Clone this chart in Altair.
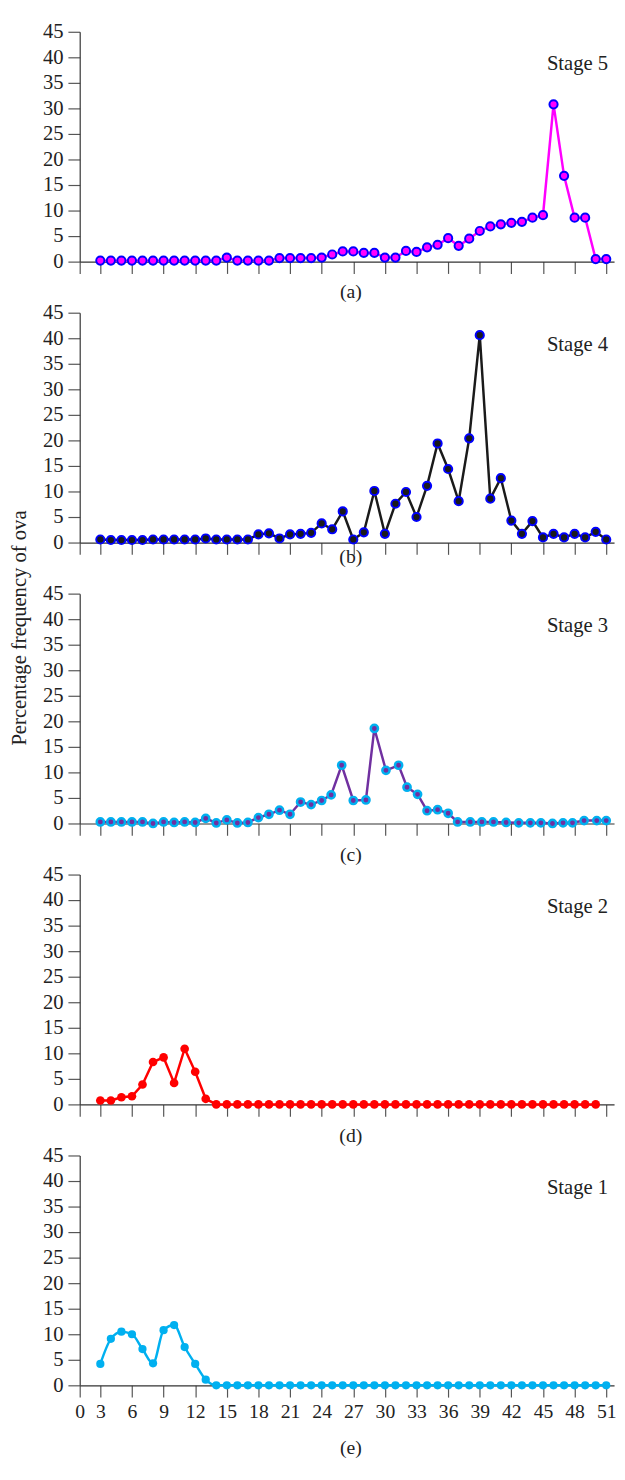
import altair as alt
import pandas as pd

FONT = "Liberation Serif"

# ---- data ----
x_full = list(range(3, 52))          # stages 5, 4, 1
x_stage2 = list(range(3, 51))
x_stage3 = list(range(3, 24)) + [24, 24.9, 25.9, 27, 28.2, 29, 30.1, 31.3, 32.1, 33.1,
                                 34, 35, 36, 36.9, 38.1, 39.2, 40.3, 41.5, 42.7, 43.8,
                                 44.8, 45.9, 46.9, 47.8, 48.9, 50.1, 51.0]

stage5 = [0.2] * 12 + [0.8] + [0.2] * 4 + [0.7] * 4 + [
    0.8, 1.4, 2.0, 2.0, 1.7, 1.7, 0.8, 0.8, 2.1, 1.9, 2.8, 3.3, 4.6, 3.1, 4.5,
    6.0, 6.9, 7.3, 7.6, 7.8, 8.6, 9.1, 30.8, 16.8, 8.6, 8.6, 0.5, 0.5]

stage4 = [0.6, 0.5, 0.5, 0.5, 0.5, 0.6, 0.6, 0.6, 0.6, 0.6, 0.8, 0.6, 0.6, 0.6, 0.6,
          1.6, 1.8, 0.8, 1.6, 1.7, 1.9, 3.75, 2.6, 6.1, 0.6, 2.0, 10.1, 1.7, 7.6, 9.9,
          5.0, 11.1, 19.4, 14.4, 8.1, 20.4, 40.6, 8.6, 12.6, 4.3, 1.7, 4.2, 1.0, 1.7,
          1.0, 1.7, 1.0, 2.1, 0.6]

stage3 = [0.3, 0.3, 0.3, 0.3, 0.3, 0.0, 0.3, 0.2, 0.3, 0.2, 1.0, 0.1, 0.7, 0.1, 0.2,
          1.15, 1.8, 2.6, 1.8, 4.2, 3.7,
          4.5, 5.6, 11.4, 4.5, 4.6, 18.6, 10.4, 11.4, 7.1, 5.7, 2.5, 2.7, 2.0,
          0.3, 0.3, 0.3, 0.3, 0.2, 0.13, 0.13, 0.13, 0.0, 0.13, 0.13, 0.57, 0.57, 0.57]

stage2 = [0.76, 0.76, 1.4, 1.6, 3.9, 8.3, 9.2, 4.2, 10.9, 6.4, 1.1] + [0.0] * 37

stage1 = [4.2, 9.1, 10.5, 10.0, 7.1, 4.3, 10.8, 11.8, 7.5, 4.2, 1.1] + [0.0] * 38

x_tick_labels = list(range(3, 52, 3))
y_tick_values = list(range(0, 50, 5))

# ---- layout ----
W = 544
H = 234
X_MIN = 1.043
X_MAX = X_MIN + W / 10.73


def panel(xv, yv, line_color, fill, stroke, size, sw, stage, letter, letter_dy,
          bottom=False, interp="linear", ytitle=False):
    df = pd.DataFrame({"x": xv, "y": yv})
    xs = alt.Scale(domain=[X_MIN, X_MAX], nice=False, zero=False)
    ys = alt.Scale(domain=[0, 45], nice=False)
    xaxis = alt.Axis(values=[X_MIN] + x_tick_labels, labels=bottom,
                     labelExpr="datum.value < 2 ? '0' : datum.label",
                     labelFlush=False, labelOverlap=False, tickSize=12,
                     labelPadding=5, labelFontSize=20, title=None, grid=False,
                     tickCount=len(x_tick_labels) + 1)
    yaxis = alt.Axis(values=y_tick_values, tickSize=12, labelPadding=5,
                     labelFontSize=21, title=None, grid=False, labelFlush=False,
                     labelOverlap=False, tickCount=len(y_tick_values))
    enc = dict(x=alt.X("x:Q", scale=xs, axis=xaxis),
               y=alt.Y("y:Q", scale=ys, axis=yaxis))
    base = alt.Chart(df).encode(**enc)
    line = base.mark_line(color=line_color, strokeWidth=2.5, interpolate=interp)
    pt_kwargs = dict(size=size, fill=fill, fillOpacity=1, opacity=1)
    if stroke:
        pt_kwargs.update(stroke=stroke, strokeWidth=sw, strokeOpacity=1)
    else:
        pt_kwargs.update(strokeWidth=0)
    pts = base.mark_circle(**pt_kwargs)
    stage_txt = alt.Chart(pd.DataFrame({"t": [stage]})).mark_text(
        align="right", baseline="alphabetic", font=FONT, fontSize=21, color="#222"
    ).encode(x=alt.value(538), y=alt.value(39), text="t:N")
    letter_txt = alt.Chart(pd.DataFrame({"t": [letter]})).mark_text(
        align="center", baseline="middle", font=FONT, fontSize=20, color="#222"
    ).encode(x=alt.value(276), y=alt.value(H + letter_dy), text="t:N")
    layers = [line, pts, stage_txt, letter_txt]
    if ytitle:
        layers.append(alt.Chart(pd.DataFrame({"t": ["Percentage frequency of ova"]})).mark_text(
            align="center", baseline="middle", angle=270, font=FONT, fontSize=21, color="#222"
        ).encode(x=alt.value(-61), y=alt.value(35), text="t:N"))
    return alt.layer(*layers).properties(width=W, height=H)


pa = panel(x_full, stage5, "#ff00ff", "#ff00ff", "#0000ff", 70, 2, "Stage 5", "(a)", 31)
pb = panel(x_full, stage4, "#1a1a1a", "#1a1a1a", "#0000ff", 70, 2, "Stage 4", "(b)", 15)
pc = panel(x_stage3, stage3, "#7030a0", "#7030a0", "#00b0f0", 55, 2.5, "Stage 3", "(c)", 32,
           ytitle=True)
pd_ = panel(x_stage2, stage2, "#ff0000", "#ff0000", None, 78, 0, "Stage 2", "(d)", 32)
pe = panel(x_full, stage1, "#00b0f0", "#00b0f0", None, 70, 0, "Stage 1", "(e)", 64,
           bottom=True, interp="monotone")

chart = alt.vconcat(pa, pb, pc, pd_, pe, spacing=52, bounds="flush").properties(
    padding={"left": 0, "top": 0, "right": 0, "bottom": 0}
).configure_view(stroke=None).configure_axis(
    domainColor="#333", domainWidth=1.2, tickColor="#555", tickWidth=1.2,
    labelColor="#222", labelFont=FONT, labelOverlap=False, labelFlush=False
)

chart.save("out.html", embed_options={"renderer": "svg", "actions": False})
